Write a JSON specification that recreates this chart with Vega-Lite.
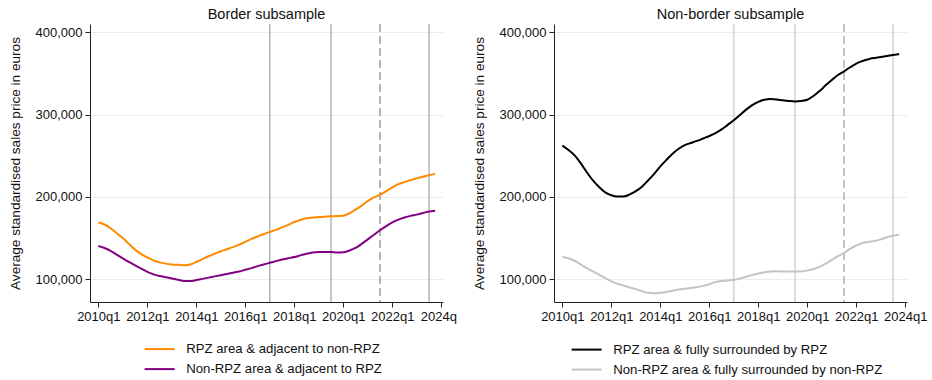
{
  "$schema": "https://vega.github.io/schema/vega-lite/v6.json",
  "background": "white",
  "padding": {"left": 8, "top": 6, "right": 2, "bottom": 2},
  "config": {
    "font": "Liberation Sans",
    "view": {"stroke": null},
    "title": {"fontSize": 14.5, "fontWeight": "normal", "color": "#111111", "anchor": "middle", "offset": 1},
    "axis": {
      "labelFontSize": 13, "labelColor": "#111111", "titleFontSize": 13.6, "titleFontWeight": "normal", "titleColor": "#111111",
      "domainColor": "#222222", "tickColor": "#222222", "tickSize": 5, "labelPadding": 3, "gridColor": "#ececec", "gridWidth": 1
    },
    "legend": {"labelFontSize": 13.2, "labelColor": "#111111", "padding": 0, "labelLimit": 400}
  },
  "datasets": {
    "border": [
      {"t": 2010.00, "rpz": 169000, "nonrpz": 140500},
      {"t": 2010.25, "rpz": 166500, "nonrpz": 138000},
      {"t": 2010.50, "rpz": 162000, "nonrpz": 134500},
      {"t": 2010.75, "rpz": 156000, "nonrpz": 130000},
      {"t": 2011.00, "rpz": 150000, "nonrpz": 125500},
      {"t": 2011.25, "rpz": 143000, "nonrpz": 121000},
      {"t": 2011.50, "rpz": 136000, "nonrpz": 117000},
      {"t": 2011.75, "rpz": 130500, "nonrpz": 113000},
      {"t": 2012.00, "rpz": 126500, "nonrpz": 109000},
      {"t": 2012.25, "rpz": 123000, "nonrpz": 106000},
      {"t": 2012.50, "rpz": 120500, "nonrpz": 104000},
      {"t": 2012.75, "rpz": 119000, "nonrpz": 102500},
      {"t": 2013.00, "rpz": 118000, "nonrpz": 101000},
      {"t": 2013.25, "rpz": 117500, "nonrpz": 99500},
      {"t": 2013.50, "rpz": 117000, "nonrpz": 98000},
      {"t": 2013.75, "rpz": 118000, "nonrpz": 97800},
      {"t": 2014.00, "rpz": 121000, "nonrpz": 99000},
      {"t": 2014.25, "rpz": 124500, "nonrpz": 100500},
      {"t": 2014.50, "rpz": 128000, "nonrpz": 102000},
      {"t": 2014.75, "rpz": 131000, "nonrpz": 103500},
      {"t": 2015.00, "rpz": 134000, "nonrpz": 105000},
      {"t": 2015.25, "rpz": 136500, "nonrpz": 106500},
      {"t": 2015.50, "rpz": 139000, "nonrpz": 108000},
      {"t": 2015.75, "rpz": 142000, "nonrpz": 109500},
      {"t": 2016.00, "rpz": 145500, "nonrpz": 111500},
      {"t": 2016.25, "rpz": 149000, "nonrpz": 113500},
      {"t": 2016.50, "rpz": 152000, "nonrpz": 116000},
      {"t": 2016.75, "rpz": 155000, "nonrpz": 118000},
      {"t": 2017.00, "rpz": 157500, "nonrpz": 120000},
      {"t": 2017.25, "rpz": 160000, "nonrpz": 122000},
      {"t": 2017.50, "rpz": 163000, "nonrpz": 124000},
      {"t": 2017.75, "rpz": 166000, "nonrpz": 125500},
      {"t": 2018.00, "rpz": 169500, "nonrpz": 127000},
      {"t": 2018.25, "rpz": 172000, "nonrpz": 129000},
      {"t": 2018.50, "rpz": 174000, "nonrpz": 131000},
      {"t": 2018.75, "rpz": 175000, "nonrpz": 132500},
      {"t": 2019.00, "rpz": 175500, "nonrpz": 133000},
      {"t": 2019.25, "rpz": 176000, "nonrpz": 133000},
      {"t": 2019.50, "rpz": 176500, "nonrpz": 133000},
      {"t": 2019.75, "rpz": 176700, "nonrpz": 132500},
      {"t": 2020.00, "rpz": 177200, "nonrpz": 132800},
      {"t": 2020.25, "rpz": 180000, "nonrpz": 135000},
      {"t": 2020.50, "rpz": 184500, "nonrpz": 138000},
      {"t": 2020.75, "rpz": 189500, "nonrpz": 143000},
      {"t": 2021.00, "rpz": 195000, "nonrpz": 148500},
      {"t": 2021.25, "rpz": 199500, "nonrpz": 154000},
      {"t": 2021.50, "rpz": 202500, "nonrpz": 159500},
      {"t": 2021.75, "rpz": 207000, "nonrpz": 164500},
      {"t": 2022.00, "rpz": 211500, "nonrpz": 169000},
      {"t": 2022.25, "rpz": 215500, "nonrpz": 172500},
      {"t": 2022.50, "rpz": 218000, "nonrpz": 175000},
      {"t": 2022.75, "rpz": 220500, "nonrpz": 177000},
      {"t": 2023.00, "rpz": 222500, "nonrpz": 178500},
      {"t": 2023.25, "rpz": 224500, "nonrpz": 180500},
      {"t": 2023.50, "rpz": 226500, "nonrpz": 182300},
      {"t": 2023.75, "rpz": 228000, "nonrpz": 183300}
    ],
    "nonborder": [
      {"t": 2010.00, "rpz": 262300, "nonrpz": 127500},
      {"t": 2010.25, "rpz": 257000, "nonrpz": 125500},
      {"t": 2010.50, "rpz": 250500, "nonrpz": 122500},
      {"t": 2010.75, "rpz": 241000, "nonrpz": 118000},
      {"t": 2011.00, "rpz": 230000, "nonrpz": 113500},
      {"t": 2011.25, "rpz": 220000, "nonrpz": 109500},
      {"t": 2011.50, "rpz": 212000, "nonrpz": 105500},
      {"t": 2011.75, "rpz": 205500, "nonrpz": 101500},
      {"t": 2012.00, "rpz": 202000, "nonrpz": 97500},
      {"t": 2012.25, "rpz": 200500, "nonrpz": 94500},
      {"t": 2012.50, "rpz": 200500, "nonrpz": 92500},
      {"t": 2012.75, "rpz": 203000, "nonrpz": 90000},
      {"t": 2013.00, "rpz": 207000, "nonrpz": 88000},
      {"t": 2013.25, "rpz": 212500, "nonrpz": 85500},
      {"t": 2013.50, "rpz": 220000, "nonrpz": 83500},
      {"t": 2013.75, "rpz": 228000, "nonrpz": 83000},
      {"t": 2014.00, "rpz": 237000, "nonrpz": 83500},
      {"t": 2014.25, "rpz": 245000, "nonrpz": 84700},
      {"t": 2014.50, "rpz": 252500, "nonrpz": 86000},
      {"t": 2014.75, "rpz": 258500, "nonrpz": 87500},
      {"t": 2015.00, "rpz": 263000, "nonrpz": 88500},
      {"t": 2015.25, "rpz": 265500, "nonrpz": 89500},
      {"t": 2015.50, "rpz": 268000, "nonrpz": 90500},
      {"t": 2015.75, "rpz": 271000, "nonrpz": 92000},
      {"t": 2016.00, "rpz": 274000, "nonrpz": 94000},
      {"t": 2016.25, "rpz": 277500, "nonrpz": 96500},
      {"t": 2016.50, "rpz": 282000, "nonrpz": 97800},
      {"t": 2016.75, "rpz": 287500, "nonrpz": 98500},
      {"t": 2017.00, "rpz": 293000, "nonrpz": 99300},
      {"t": 2017.25, "rpz": 299500, "nonrpz": 101000},
      {"t": 2017.50, "rpz": 306000, "nonrpz": 103000},
      {"t": 2017.75, "rpz": 311500, "nonrpz": 105300},
      {"t": 2018.00, "rpz": 315500, "nonrpz": 107000},
      {"t": 2018.25, "rpz": 318000, "nonrpz": 108500},
      {"t": 2018.50, "rpz": 318800, "nonrpz": 109500},
      {"t": 2018.75, "rpz": 318300, "nonrpz": 109700},
      {"t": 2019.00, "rpz": 317300, "nonrpz": 109500},
      {"t": 2019.25, "rpz": 316500, "nonrpz": 109300},
      {"t": 2019.50, "rpz": 316000, "nonrpz": 109300},
      {"t": 2019.75, "rpz": 316500, "nonrpz": 109500},
      {"t": 2020.00, "rpz": 318000, "nonrpz": 110500},
      {"t": 2020.25, "rpz": 322500, "nonrpz": 112500},
      {"t": 2020.50, "rpz": 328500, "nonrpz": 115000},
      {"t": 2020.75, "rpz": 335500, "nonrpz": 119000},
      {"t": 2021.00, "rpz": 342000, "nonrpz": 123500},
      {"t": 2021.25, "rpz": 348000, "nonrpz": 128000},
      {"t": 2021.50, "rpz": 352500, "nonrpz": 132000},
      {"t": 2021.75, "rpz": 357500, "nonrpz": 137000},
      {"t": 2022.00, "rpz": 362000, "nonrpz": 141000},
      {"t": 2022.25, "rpz": 365000, "nonrpz": 144000},
      {"t": 2022.50, "rpz": 367300, "nonrpz": 145500},
      {"t": 2022.75, "rpz": 368800, "nonrpz": 146500},
      {"t": 2023.00, "rpz": 370000, "nonrpz": 148500},
      {"t": 2023.25, "rpz": 371200, "nonrpz": 151000},
      {"t": 2023.50, "rpz": 372300, "nonrpz": 153000},
      {"t": 2023.75, "rpz": 373500, "nonrpz": 154500}
    ],
    "periods": [
      {"t": 2017.0, "style": "solid"},
      {"t": 2019.5, "style": "solid"},
      {"t": 2021.5, "style": "dashed"},
      {"t": 2023.5, "style": "solid"}
    ]
  },
  "hconcat": [
    {
      "title": "Border subsample",
      "width": 353,
      "height": 278,
      "layer": [
        {
          "data": {"name": "periods"},
          "transform": [{"filter": "datum.style == 'solid'"}],
          "mark": {"type": "rule", "color": "#a9a9a9", "strokeWidth": 1.3},
          "encoding": {"x": {"field": "t", "type": "quantitative"}}
        },
        {
          "data": {"name": "periods"},
          "transform": [{"filter": "datum.style == 'dashed'"}],
          "mark": {"type": "rule", "color": "#8c8c8c", "strokeWidth": 1.3, "strokeDash": [8, 4]},
          "encoding": {"x": {"field": "t", "type": "quantitative"}}
        },
        {
          "data": {"name": "border"},
          "transform": [{"fold": ["rpz", "nonrpz"], "as": ["group", "price"]}],
          "mark": {"type": "line", "strokeWidth": 2, "interpolate": "monotone"},
          "encoding": {
            "x": {
              "field": "t", "type": "quantitative",
              "scale": {"domain": [2009.66, 2024.07], "nice": false, "zero": false},
              "axis": {
                "title": null, "grid": false, "values": [2010, 2012, 2014, 2016, 2018, 2020, 2022, 2024],
                "labelExpr": "datum.value == 2024 ? '2024q' : floor(datum.value) + 'q1'",
                "labelOffset": {"condition": {"test": "datum.value == 2024", "value": -3}, "value": 0},
                "labelOverlap": false
              }
            },
            "y": {
              "field": "price", "type": "quantitative",
              "scale": {"domain": [72400, 410000], "nice": false, "zero": false},
              "axis": {
                "title": "Average standardised sales price in euros", "titlePadding": 13,
                "values": [100000, 200000, 300000, 400000], "format": ",d", "grid": true
              }
            },
            "color": {
              "field": "group", "type": "nominal",
              "scale": {"domain": ["rpz", "nonrpz"], "range": ["#ff8a00", "#820083"]},
              "legend": {
                "title": null, "orient": "none", "legendX": 63, "legendY": 318.5,
                "symbolType": "M-3,0H3", "symbolSize": 100, "symbolStrokeWidth": 2,
                "labelOffset": 20, "rowPadding": 6,
                "labelExpr": "datum.label == 'rpz' ? 'RPZ area & adjacent to non-RPZ' : 'Non-RPZ area & adjacent to RPZ'"
              }
            }
          }
        }
      ]
    },
    {
      "title": "Non-border subsample",
      "width": 353,
      "height": 278,
      "layer": [
        {
          "data": {"name": "periods"},
          "transform": [{"filter": "datum.style == 'solid'"}],
          "mark": {"type": "rule", "color": "#cccccc", "strokeWidth": 1.3},
          "encoding": {"x": {"field": "t", "type": "quantitative"}}
        },
        {
          "data": {"name": "periods"},
          "transform": [{"filter": "datum.style == 'dashed'"}],
          "mark": {"type": "rule", "color": "#a6a6a6", "strokeWidth": 1.3, "strokeDash": [8, 4]},
          "encoding": {"x": {"field": "t", "type": "quantitative"}}
        },
        {
          "data": {"name": "nonborder"},
          "transform": [{"fold": ["rpz", "nonrpz"], "as": ["group", "price"]}],
          "mark": {"type": "line", "strokeWidth": 2, "interpolate": "monotone"},
          "encoding": {
            "x": {
              "field": "t", "type": "quantitative",
              "scale": {"domain": [2009.66, 2024.07], "nice": false, "zero": false},
              "axis": {
                "title": null, "grid": false, "values": [2010, 2012, 2014, 2016, 2018, 2020, 2022, 2024],
                "labelExpr": "floor(datum.value) + 'q1'", "labelOverlap": false
              }
            },
            "y": {
              "field": "price", "type": "quantitative",
              "scale": {"domain": [72400, 410000], "nice": false, "zero": false},
              "axis": {
                "title": "Average standardised sales price in euros", "titlePadding": 13,
                "values": [100000, 200000, 300000, 400000], "format": ",d", "grid": true
              }
            },
            "color": {
              "field": "group", "type": "nominal",
              "scale": {"domain": ["rpz", "nonrpz"], "range": ["#000000", "#c4c4c4"]},
              "legend": {
                "title": null, "orient": "none", "legendX": 26, "legendY": 319,
                "symbolType": "M-3,0H3", "symbolSize": 100, "symbolStrokeWidth": 2,
                "labelOffset": 20, "rowPadding": 6,
                "labelExpr": "datum.label == 'rpz' ? 'RPZ area & fully surrounded by RPZ' : 'Non-RPZ area & fully surrounded by non-RPZ'"
              }
            }
          }
        }
      ]
    }
  ],
  "spacing": 111,
  "bounds": "flush",
  "resolve": {"scale": {"color": "independent", "x": "independent", "y": "independent"}}
}
